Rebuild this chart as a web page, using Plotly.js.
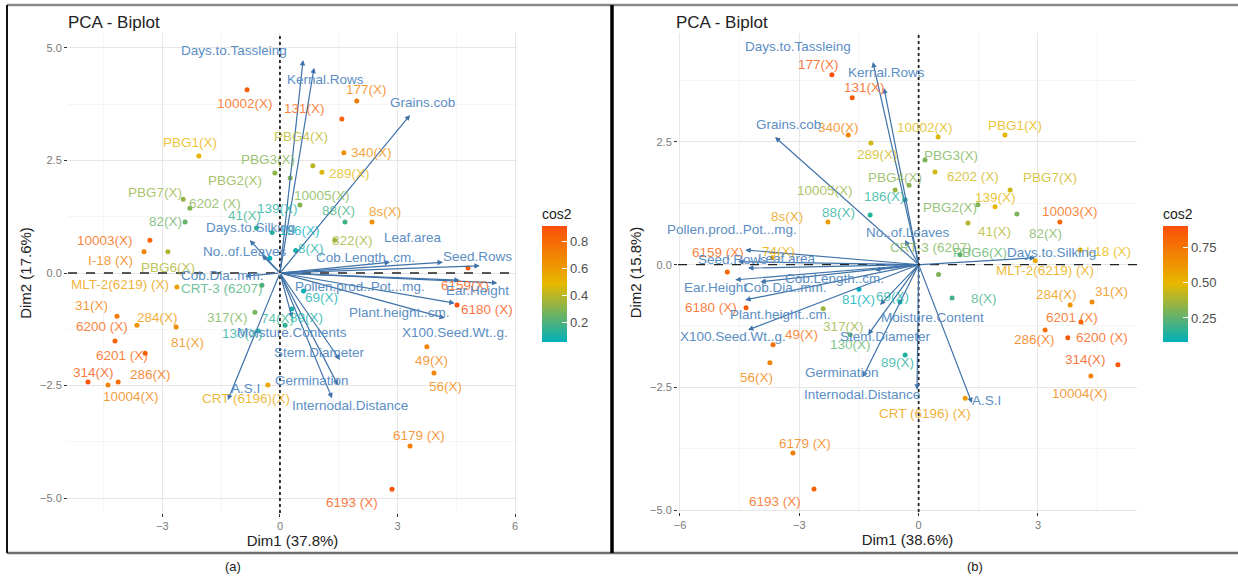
<!DOCTYPE html>
<html><head><meta charset="utf-8">
<script src="https://cdn.plot.ly/plotly-3.0.1.min.js"></script>
<style>html,body{margin:0;padding:0;background:#fff}#chart{width:1238px;height:577px}</style>
</head><body><div id="chart"></div>
<script>
// ---------------- Panel (a) data ----------------
const indNamesA = ["10002(X)","131(X)","177(X)","340(X)","289(X)","PBG4(X)","PBG3(X)","PBG1(X)","PBG2(X)","10005(X)","PBG7(X)","6202 (X)","82(X)","10003(X)","I-18 (X)","PBG6(X)","MLT-2(6219) (X)","31(X)","284(X)","6200 (X)","81(X)","6201 (X)","314(X)","286(X)","10004(X)","CRT (6196)(X)","6193 (X)","6179 (X)","56(X)","49(X)","6180 (X)","6159(X)","8s(X)","88(X)","322(X)","74(X)","317(X)","CRT-3 (6207)","130(X)","186(X)","41(X)","8(X)","69(X)","89(X)","139(X)"];
const indDim1A = [-0.84,1.58,1.96,1.63,1.07,0.84,0.26,-2.07,-0.13,0.51,-2.47,-2.3,-2.42,-3.32,-3.47,-2.86,-2.63,-4.16,-3.65,-4.21,-2.65,-3.44,-4.9,-4.13,-4.39,-0.31,2.86,3.32,3.93,3.75,4.52,4.8,2.35,1.66,1.4,0.13,-0.64,-0.46,-0.56,-0.26,-0.6,0.4,0.6,0.3,-0.2];
const indDim2A = [4.07,3.42,3.82,2.67,2.24,2.38,2.11,2.6,2.22,1.51,1.64,1.44,1.13,0.73,0.47,0.47,-0.31,-0.96,-1.16,-1.51,-1.2,-1.78,-2.42,-2.42,-2.49,-2.49,-4.8,-3.84,-2.22,-1.64,-0.71,0.11,1.13,1.13,0.73,-1.16,-0.87,-0.27,-1.29,0.33,1.0,0.5,-0.4,-0.8,0.9];
const indCos2A = [0.85,0.82,0.72,0.66,0.47,0.40,0.30,0.50,0.32,0.30,0.33,0.30,0.25,0.82,0.70,0.38,0.58,0.72,0.62,0.82,0.66,0.84,0.88,0.78,0.70,0.55,0.88,0.72,0.68,0.70,0.91,0.86,0.65,0.18,0.35,0.15,0.28,0.20,0.12,0.06,0.15,0.10,0.08,0.10,0.12];

const varNamesA = ["Days.to.Tassleing","Kernal.Rows","Grains.cob","Leaf.area","Seed.Rows","Cob.Length..cm.","Pollen.prod..Pot...mg.","Ear.Height","Plant.height..cm.","X100.Seed.Wt..g.","Moisture.Contents","Stem.Diameter","Germination","Internodal.Distance","A.S.I","Cob.Dia..mm.","Days.to.Silking","No..of.Leaves"];
const varDim1A = [0.59,0.87,3.32,4.16,5.1,2.81,4.59,5.55,4.46,4.21,0.31,1.53,1.48,1.33,-1.33,-0.89,-0.77,-0.46];
const varDim2A = [4.73,4.56,3.51,0.24,0.16,0.24,-0.16,-0.22,-0.67,-1.0,-1.0,-1.93,-2.49,-2.78,-2.82,-0.07,0.73,0.4];

// ---------------- Panel (b) data ----------------
const indNamesB = ["177(X)","131(X)","340(X)","289(X)","10002(X)","PBG1(X)","PBG3(X)","PBG4(X)","10005(X)","186(X)","6202 (X)","PBG7(X)","139(X)","PBG2(X)","10003(X)","41(X)","82(X)","8s(X)","88(X)","6159 (X)","74(X)","6180 (X)","49(X)","56(X)","6179 (X)","6193 (X)","CRT (6196) (X)","10004(X)","314(X)","6200 (X)","286(X)","6201 (X)","284(X)","31(X)","MLT-2(6219) (X)","I-18 (X)","8(X)","PBG6(X)","69(X)","89(X)","130(X)","317(X)","CRT-3 (6207)","81(X)"];
const indDim1B = [-2.18,-1.67,-1.77,-1.2,0.49,2.17,0.16,-0.24,-0.59,-0.34,0.41,2.3,1.92,1.49,3.55,1.24,2.47,-2.28,-1.22,-4.81,-3.68,-4.34,-3.66,-3.74,-3.16,-2.63,1.17,4.33,5.01,3.75,3.18,4.08,3.81,4.36,2.93,4.06,0.84,1.04,-0.47,-0.34,-1.72,-2.4,0.5,-1.5];
const indDim2B = [3.87,3.4,2.64,2.48,2.6,2.64,2.13,1.62,1.52,1.32,1.89,1.52,1.18,1.22,0.87,0.85,1.03,0.87,1.01,-0.15,0.14,-0.88,-1.63,-2.0,-3.84,-4.57,-2.72,-2.27,-2.04,-1.49,-1.33,-1.17,-0.82,-0.76,0.08,0.3,-0.68,0.2,-0.76,-1.84,-1.43,-0.9,-0.2,-0.5];
const indCos2B = [0.90,0.86,0.70,0.45,0.47,0.50,0.30,0.32,0.35,0.15,0.45,0.45,0.50,0.30,0.80,0.40,0.30,0.60,0.15,0.82,0.55,0.85,0.78,0.70,0.72,0.82,0.60,0.70,0.88,0.85,0.76,0.82,0.62,0.66,0.55,0.50,0.20,0.25,0.12,0.14,0.25,0.35,0.30,0.08];

const varNamesB = ["Days.to.Tassleing","Kernal.Rows","Grains.cob","Pollen.prod..Pot...mg.","Seed.Rows","Leaf.area","Ear.Height","Cob.Dia..mm.","Plant.height..cm.","X100.Seed.Wt..g.","Moisture.Content","Stem.Diameter","Germination","Internodal.Distance","A.S.I","Days.to.Silking","No..of.Leaves","Cob.Length..cm."];
const varDim1B = [-1.15,-0.87,-3.61,-4.36,-4.54,-4.29,-4.61,-3.98,-4.36,-4.29,-0.97,-1.27,-1.4,-0.04,1.34,2.93,-0.34,-1.1];
const varDim2B = [4.13,3.6,2.6,0.3,0.06,-0.07,-0.31,-0.35,-0.72,-1.33,-0.82,-1.43,-2.29,-2.55,-2.82,0.14,0.5,-0.11];

// ---------------- label offsets (pixels, style only: repelled-label placement) ----------------
const indLabelShiftA = [[-2,-14],[-37,10],[10,11],[28,0],[28,-1],[-12,29],[-22,18],[-9,13],[-40,-7],[22,10],[-28,7],[25,5],[-20,1],[-45,0],[-34,-9],[0,-16],[-57,2],[-25,11],[21,8],[-13,14],[11,-15],[-23,-2],[6,9],[32,7],[23,-11],[-22,-13],[-40,-13],[9,10],[12,-14],[5,-14],[30,-5],[-3,-17],[13,11],[-7,12],[18,0],[-8,7],[-27,-5],[-40,-3],[-16,-2],[30,28],[-12,12],[15,2],[18,-6],[15,-8],[5,24]];
const varLabelShiftA = [[-69,10],[11,-12],[12,12],[-30,25],[-2,9],[-25,5],[-100,-6],[-20,-8],[-55,-9],[10,-14],[0,-14],[-20,7],[-26,5],[18,-7],[18,11],[-23,1],[1,13],[-17,3]];
const indLabelShiftB = [[-13,10],[12,10],[-10,8],[7,-12],[-13,10],[10,10],[26,5],[-14,8],[-70,0],[-21,3],[38,-5],[40,13],[0,9],[-28,-3],[10,10],[27,-9],[29,-19],[-41,5],[-32,3],[-9,20],[6,6],[-35,0],[28,10],[-13,-15],[12,10],[-39,-13],[-40,-15],[-11,-17],[-32,5],[34,0],[-11,-10],[-9,5],[-14,10],[19,10],[10,-10],[28,-2],[32,0],[20,2],[-7,5],[-8,-8],[0,-10],[20,-18],[-8,27],[0,-10]];
const varLabelShiftB = [[-75,15],[2,15],[13,13],[-13,20],[-6,2],[39,10],[-20,-8],[25,-6],[35,-15],[-15,-7],[52,-13],[17,-2],[-21,5],[-55,-5],[15,3],[16,5],[3,8],[-40,-8]];

// ---------------- helpers ----------------
const gradStops = ["#00AFBB","#E7B800","#FC4E07"];
const colorscale = [[0,gradStops[0]],[0.5,gradStops[1]],[1,gradStops[2]]];
function hex2rgb(h){return [parseInt(h.slice(1,3),16),parseInt(h.slice(3,5),16),parseInt(h.slice(5,7),16)];}
function colorOf(v, lo, hi, a){
  let t=(v-lo)/(hi-lo); t=Math.max(0,Math.min(1,t));
  let i = t<0.5?0:1; let f = t<0.5? t/0.5 : (t-0.5)/0.5;
  const c0=hex2rgb(gradStops[i]), c1=hex2rgb(gradStops[i+1]);
  const c=c0.map((v0,k)=>Math.round(v0+(c1[k]-v0)*f));
  return `rgba(${c[0]},${c[1]},${c[2]},${a})`;
}
const varLineColor = "#3F72A8";
const varTextColor = "#5B8EC4";
const FONT = "Liberation Sans, Arial, sans-serif";

function panel(names,d1,d2,cos2,ishift,vn,v1,v2,vshift,xa,ya,cax){
  const lo=Math.min(...cos2), hi=Math.max(...cos2);
  const traces=[{type:'scatter',mode:'markers',x:d1,y:d2,text:names,
    xaxis:xa,yaxis:ya,cliponaxis:false,hoverinfo:'text',
    marker:{size:5,color:cos2,coloraxis:cax}}];
  const ann=[];
  v1.forEach((vx,i)=>ann.push({x:vx,y:v2[i],ax:0,ay:0,xref:xa,yref:ya,axref:xa,ayref:ya,text:'',
    showarrow:true,arrowhead:2,arrowsize:0.9,arrowwidth:1.2,arrowcolor:varLineColor}));
  d1.forEach((x,i)=>ann.push({x:x,y:d2[i],xref:xa,yref:ya,text:names[i],showarrow:false,
    xshift:ishift[i][0],yshift:ishift[i][1],font:{family:FONT,size:13.5,color:colorOf(cos2[i],lo,hi,0.8)}}));
  v1.forEach((x,i)=>ann.push({x:x,y:v2[i],xref:xa,yref:ya,text:vn[i],showarrow:false,
    xshift:vshift[i][0],yshift:vshift[i][1],font:{family:FONT,size:13.5,color:varTextColor}}));
  return {traces,ann};
}
const A = panel(indNamesA,indDim1A,indDim2A,indCos2A,indLabelShiftA,varNamesA,varDim1A,varDim2A,varLabelShiftA,'x','y','coloraxis');
const B = panel(indNamesB,indDim1B,indDim2B,indCos2B,indLabelShiftB,varNamesB,varDim1B,varDim2B,varLabelShiftB,'x2','y2','coloraxis2');

const W=1238,H=577;
const px=v=>v/W, py=v=>1-v/H;
const gridMajor='#E6E6E6', gridMinor='#F2F2F2';
function xax(domain,range,title){return {domain,range,dtick:3,tick0:0,showgrid:true,gridcolor:gridMajor,gridwidth:1,
  minor:{dtick:1.5,tick0:0,showgrid:true,gridcolor:gridMinor,gridwidth:0.8,ticks:''},
  zeroline:false,showline:false,ticks:'outside',ticklen:3,tickcolor:'#333',
  tickfont:{family:FONT,size:11,color:'#7A7A7A'},
  title:{text:title,font:{family:FONT,size:15,color:'#222'},standoff:4}};}
function yax(domain,range,title){return {domain,range,dtick:2.5,tick0:0,tickformat:'.1f',showgrid:true,gridcolor:gridMajor,gridwidth:1,
  minor:{dtick:1.25,tick0:0,showgrid:true,gridcolor:gridMinor,gridwidth:0.8,ticks:''},
  zeroline:false,showline:false,ticks:'outside',ticklen:3,tickcolor:'#333',
  tickfont:{family:FONT,size:11,color:'#7A7A7A'},
  title:{text:title,font:{family:FONT,size:15,color:'#222'},standoff:4}};}

const layout = {
  width:W,height:H,margin:{l:0,r:0,t:0,b:0},paper_bgcolor:'#fff',plot_bgcolor:'#fff',showlegend:false,
  xaxis:Object.assign(xax([px(68),px(517)],[-5.41,6.05],'Dim1 (37.8%)'),{anchor:'y'}),
  yaxis:Object.assign(yax([py(513),py(33)],[-5.33,5.33],'Dim2 (17.6%)'),{anchor:'x'}),
  xaxis2:Object.assign(xax([px(678),px(1137)],[-6.05,5.49],'Dim1 (38.6%)'),{anchor:'y2'}),
  yaxis2:Object.assign(yax([py(512),py(33)],[-5.04,4.72],'Dim2 (15.8%)'),{anchor:'x2'}),
  coloraxis:{colorscale,colorbar:{x:px(542),xanchor:'left',y:py(205),yanchor:'top',lenmode:'pixels',len:137,thickness:25,
    outlinewidth:0,ticks:'inside',ticklen:5,tickcolor:'#fff',tickvals:[0.2,0.4,0.6,0.8],ticktext:['0.2','0.4','0.6','0.8'],
    tickfont:{family:FONT,size:13,color:'#4D4D4D'},title:{text:'cos2',side:'top',font:{family:FONT,size:14,color:'#222'}},xpad:0,ypad:0}},
  coloraxis2:{colorscale,colorbar:{x:px(1163),xanchor:'left',y:py(205),yanchor:'top',lenmode:'pixels',len:137,thickness:25,
    outlinewidth:0,ticks:'inside',ticklen:5,tickcolor:'#fff',tickvals:[0.25,0.5,0.75],ticktext:['0.25','0.50','0.75'],
    tickfont:{family:FONT,size:13,color:'#4D4D4D'},title:{text:'cos2',side:'top',font:{family:FONT,size:14,color:'#222'}},xpad:0,ypad:0}},
  shapes:[
    {type:'line',xref:'x domain',yref:'y',x0:0,x1:1,y0:0,y1:0,line:{color:'#222',width:1.3,dash:'dash'}},
    {type:'line',xref:'x',yref:'y domain',x0:0,x1:0,y0:0,y1:1,line:{color:'#222',width:1.8,dash:'dot'}},
    {type:'line',xref:'x2 domain',yref:'y2',x0:0,x1:1,y0:0,y1:0,line:{color:'#222',width:1.3,dash:'dash'}},
    {type:'line',xref:'x2',yref:'y2 domain',x0:0,x1:0,y0:0,y1:1,line:{color:'#222',width:1.8,dash:'dot'}},
    {type:'line',xref:'paper',yref:'paper',x0:px(7),x1:1,y0:py(5),y1:py(5),line:{color:'#8A8A8A',width:2.5}},
    {type:'line',xref:'paper',yref:'paper',x0:px(7),x1:1,y0:py(553),y1:py(553),line:{color:'#6E6E6E',width:2.5}},
    {type:'line',xref:'paper',yref:'paper',x0:px(7),x1:px(7),y0:py(5),y1:py(553),line:{color:'#111',width:2}},
    {type:'line',xref:'paper',yref:'paper',x0:px(612),x1:px(612),y0:py(5),y1:py(553),line:{color:'#000',width:3.5}}
  ],
  annotations:[
    {xref:'paper',yref:'paper',x:px(66),y:py(22),xanchor:'left',yanchor:'middle',showarrow:false,text:'PCA - Biplot',font:{family:FONT,size:17,color:'#222'}},
    {xref:'paper',yref:'paper',x:px(674),y:py(22),xanchor:'left',yanchor:'middle',showarrow:false,text:'PCA - Biplot',font:{family:FONT,size:17,color:'#222'}},
    {xref:'paper',yref:'paper',x:px(233),y:py(566),xanchor:'center',yanchor:'middle',showarrow:false,text:'(a)',font:{family:FONT,size:13,color:'#222'}},
    {xref:'paper',yref:'paper',x:px(975),y:py(566),xanchor:'center',yanchor:'middle',showarrow:false,text:'(b)',font:{family:FONT,size:13,color:'#222'}}
  ].concat(A.ann,B.ann)
};
Plotly.newPlot('chart',[...A.traces,...B.traces],layout,{displayModeBar:false,staticPlot:true});
</script></body></html>
